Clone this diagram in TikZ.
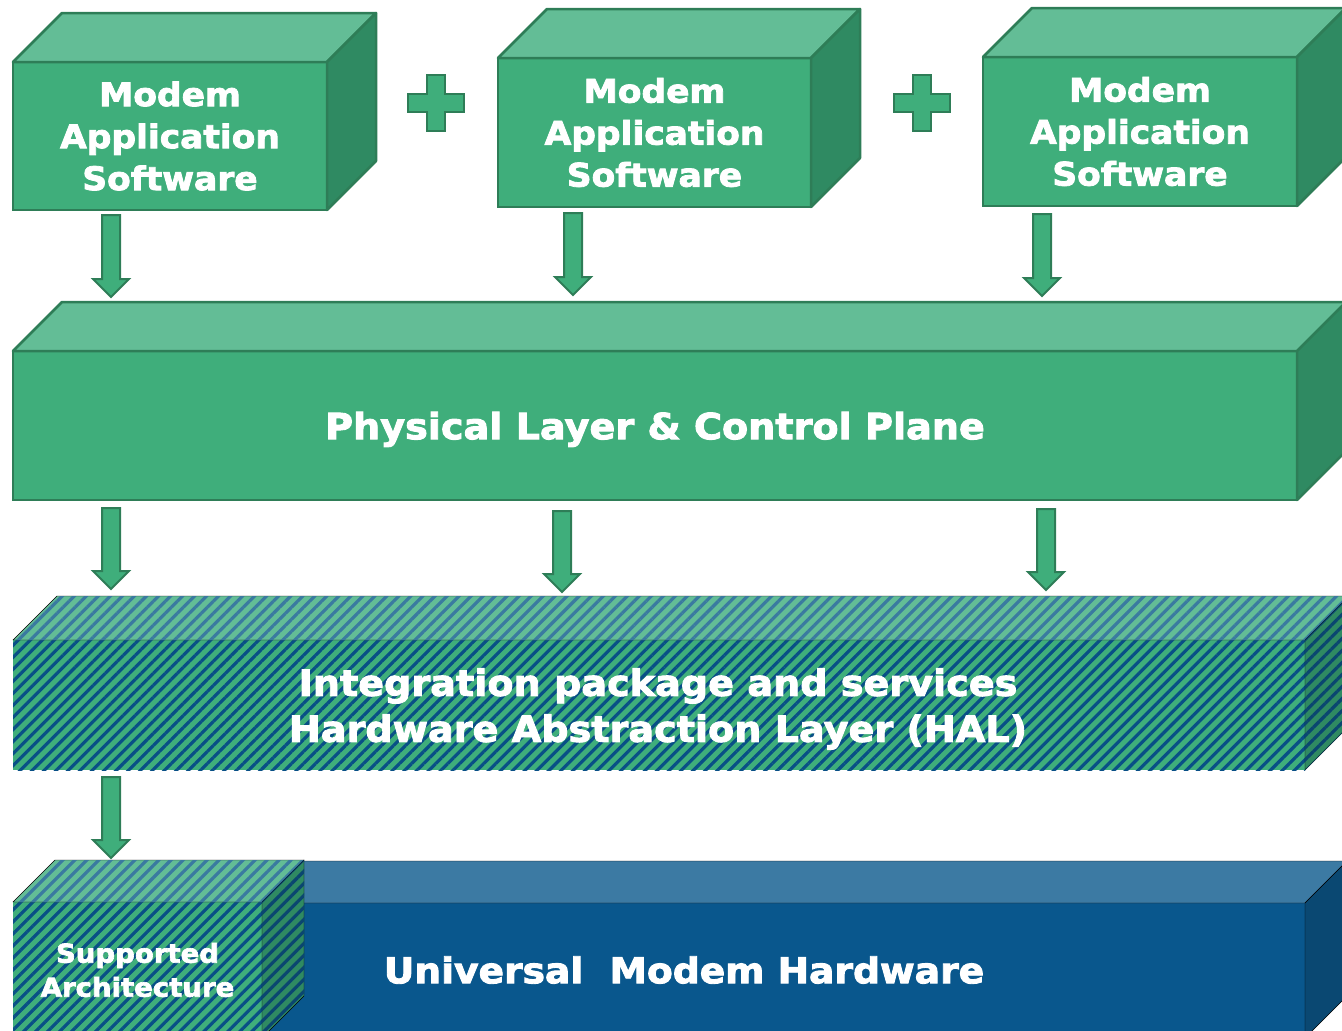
\documentclass[tikz,border=0pt]{standalone}
\usepackage{fontspec}
\newfontfamily\boxfont{DejaVu Sans Bold}[FakeStretch=1.06, FakeBold=2.5]
\usetikzlibrary{calc,patterns.meta}

\definecolor{modemgreen}{RGB}{63,174,123}
\definecolor{modemtop}{RGB}{99,189,150}
\definecolor{modemside}{RGB}{47,138,98}
\definecolor{modemedge}{RGB}{46,125,87}
\definecolor{hwblue}{RGB}{9,87,141}
\definecolor{hwtop}{RGB}{60,122,163}
\definecolor{hwside}{RGB}{10,72,114}
\definecolor{stripeblue}{RGB}{8,79,134}
\definecolor{stripetop}{RGB}{58,122,160}
\definecolor{stripeside}{RGB}{10,70,112}

\tikzset{
	cubefront/.style={draw=modemedge, line width=2.5pt, fill=modemgreen, outer sep=0pt, inner sep=0pt,
		text=white, align=center},
	cubetop/.style={draw=modemedge, line width=2.5pt, fill=modemtop, line join=round},
	cubeside/.style={draw=modemedge, line width=2.5pt, fill=modemside, line join=round},
	hatched/.style={postaction={pattern={Lines[angle=45, distance=8.5pt, line width=3.2pt]}, pattern color=#1}},
	hatchfront/.style={cubefront, draw=none, hatched=stripeblue},
	hatchtop/.style={fill=modemtop, hatched=stripetop},
	hatchside/.style={fill=modemside, hatched=stripeside},
	blockarrow/.style={fill=modemgreen, draw=modemedge, line width=2pt},
	plusmark/.style={fill=modemgreen, draw=modemedge, line width=2.5pt},
}

% top and right face of a box, #1 = front node, #2 = depth
\newcommand{\cubefaces}[4]{%
	\draw[#3] (#1.north west) -- ++(#2,-#2) -- ($(#1.north east)+(#2,-#2)$) -- (#1.north east) -- cycle;
	\draw[#4] (#1.north east) -- ($(#1.north east)+(#2,-#2)$) -- ($(#1.south east)+(#2,-#2)$) -- (#1.south east) -- cycle;}

% block arrow pointing down from #1 to #2
\newcommand{\layerarrow}[2]{%
	\filldraw[blockarrow] ($(#1)+(-9,0)$) -- ($(#1)+(9,0)$) -- ($(#2)+(9,-18)$) -- ($(#2)+(18,-18)$)
		-- (#2) -- ($(#2)+(-18,-18)$) -- ($(#2)+(-9,-18)$) -- cycle;}

\begin{document}
\begin{tikzpicture}[x=1pt, y=-1pt]
	\useasboundingbox (0,0) rectangle (1342,1031);
	\clip (0,0) rectangle (1342,1031);

	% application boxes
	\node[cubefront, minimum width=314pt, minimum height=148pt,
		font=\boxfont\fontsize{32.5}{42}\selectfont]	(app1) at (170,136)		{Modem\\Application\\Software};
	\node[cubefront, minimum width=313pt, minimum height=149pt,
		font=\boxfont\fontsize{32.5}{42}\selectfont]	(app2) at (654.5,132.5)	{Modem\\Application\\Software};
	\node[cubefront, minimum width=314pt, minimum height=149pt,
		font=\boxfont\fontsize{32.5}{42}\selectfont]	(app3) at (1140,131.5)	{Modem\\Application\\Software};
	\cubefaces{app1}{49}{cubetop}{cubeside}
	\cubefaces{app2}{49}{cubetop}{cubeside}
	\cubefaces{app3}{49}{cubetop}{cubeside}

	\draw[plusmark]	(436,103) ++(-9,-28) -- ++(18,0) -- ++(0,19) -- ++(19,0) -- ++(0,18) -- ++(-19,0)
		-- ++(0,19) -- ++(-18,0) -- ++(0,-19) -- ++(-19,0) -- ++(0,-18) -- ++(19,0) -- cycle;
	\draw[plusmark]	(922,103) ++(-9,-28) -- ++(18,0) -- ++(0,19) -- ++(19,0) -- ++(0,18) -- ++(-19,0)
		-- ++(0,19) -- ++(-18,0) -- ++(0,-19) -- ++(-19,0) -- ++(0,-18) -- ++(19,0) -- cycle;

	% physical layer
	\node[cubefront, minimum width=1284pt, minimum height=149pt, text depth=0pt,
		font=\boxfont\fontsize{36}{40}\selectfont]	(phy) at (655,425.5)	{Physical Layer \& Control Plane};
	\cubefaces{phy}{49}{cubetop}{cubeside}

	% integration / HAL
	\node[hatchfront, minimum width=1292pt, minimum height=130pt]	(hal) at (659,705) {};
	\cubefaces{hal}{44}{hatchtop}{hatchside}
	\node[text=white, align=center, font=\boxfont\fontsize{36}{46}\selectfont]	(haltext) at (658,709)
		{Integration package and services\\Hardware Abstraction Layer (HAL)};

	% hardware
	\node[cubefront, draw=none, fill=hwblue, minimum width=1085pt, minimum height=135pt]	(uni) at (762.5,970.5) {};
	\cubefaces{uni}{42}{fill=hwtop}{fill=hwside}
	\node[text=white, font=\boxfont\fontsize{35.5}{40}\selectfont]	(unitext) at (684,970)	{Universal\ \ Modem Hardware};

	\node[hatchfront, minimum width=249pt, minimum height=136pt,
		font=\boxfont\fontsize{26}{34}\selectfont]	(arch) at (137.5,970)	{Supported\\Architecture};
	\cubefaces{arch}{42}{hatchtop}{hatchside}

	% arrows
	\coordinate (a1top) at (111,215);	\coordinate (a1tip) at (111,297);
	\coordinate (a2top) at (573,213);	\coordinate (a2tip) at (573,295);
	\coordinate (a3top) at (1042,214);	\coordinate (a3tip) at (1042,296);
	\coordinate (b1top) at (111,508);	\coordinate (b1tip) at (111,589);
	\coordinate (b2top) at (562,511);	\coordinate (b2tip) at (562,592);
	\coordinate (b3top) at (1046,509);	\coordinate (b3tip) at (1046,590);
	\coordinate (c1top) at (111,777);	\coordinate (c1tip) at (111,858);
	\layerarrow{a1top}{a1tip}
	\layerarrow{a2top}{a2tip}
	\layerarrow{a3top}{a3tip}
	\layerarrow{b1top}{b1tip}
	\layerarrow{b2top}{b2tip}
	\layerarrow{b3top}{b3tip}
	\layerarrow{c1top}{c1tip}
\end{tikzpicture}
\end{document}
